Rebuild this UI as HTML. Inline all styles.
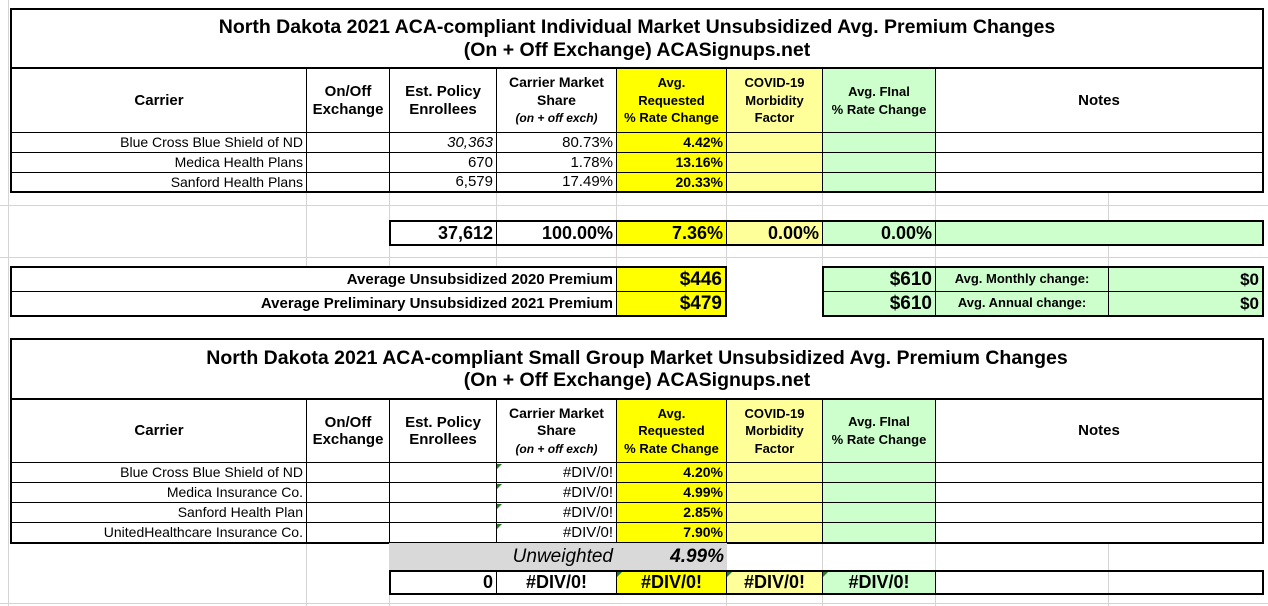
<!DOCTYPE html>
<html><head><meta charset="utf-8"><style>
body{margin:0;width:1268px;height:606px;background:#fff;position:relative;overflow:hidden;font-family:"Liberation Sans",Arial,sans-serif;color:#000}
.c{position:absolute;box-sizing:border-box;display:flex;align-items:center;border:1px solid #000;white-space:nowrap;line-height:1.15}
.ctr{justify-content:center;text-align:center}
.r{justify-content:flex-end;padding-right:3px}
.h{font-weight:bold;font-size:15px}
.d{font-size:14px}
.b{font-weight:bold}
.Y{background:#ffff00}.LY{background:#ffff99}.G{background:#ccffcc}.GR{background:#d9d9d9}
.T{border:2px solid #000}
.g{position:absolute;background:#d4d4d4}
.tri{position:absolute;width:0;height:0;border-top:5px solid #2a7a2a;border-right:5px solid transparent}
</style></head><body>
<!-- gridlines -->
<div class="g" style="left:8px;top:0;width:1px;height:606px"></div>
<div class="g" style="left:0;top:205px;width:1268px;height:1px"></div>
<div class="g" style="left:0;top:257px;width:1268px;height:1px"></div>
<div class="g" style="left:0;top:603px;width:1268px;height:1px"></div>
<div class="g" style="left:306px;top:192px;width:1px;height:76px"></div>
<div class="g" style="left:389px;top:192px;width:1px;height:76px"></div>
<div class="g" style="left:496px;top:192px;width:1px;height:76px"></div>
<div class="g" style="left:616px;top:192px;width:1px;height:76px"></div>
<div class="g" style="left:726px;top:192px;width:1px;height:76px"></div>
<div class="g" style="left:822px;top:192px;width:1px;height:76px"></div>
<div class="g" style="left:935px;top:192px;width:1px;height:76px"></div>
<div class="g" style="left:1108px;top:192px;width:1px;height:76px"></div>
<div class="g" style="left:306px;top:543px;width:1px;height:63px"></div>
<div class="g" style="left:389px;top:543px;width:1px;height:63px"></div>
<div class="g" style="left:726px;top:543px;width:1px;height:63px"></div>
<div class="g" style="left:822px;top:543px;width:1px;height:63px"></div>
<div class="g" style="left:935px;top:543px;width:1px;height:63px"></div>
<div class="g" style="left:1108px;top:543px;width:1px;height:63px"></div>

<!-- TABLE 1 -->
<div class="c ctr T b" style="left:10px;top:8px;width:1254px;height:61px;font-size:19.5px"><div>North Dakota 2021 ACA-compliant Individual Market Unsubsidized Avg. Premium Changes<br>(On + Off Exchange) ACASignups.net</div></div>
<div class="c ctr h" style="left:10px;top:68px;width:297px;height:65px;border-left-width:2px">Carrier</div>
<div class="c ctr h" style="left:306px;top:68px;width:84px;height:65px"><div>On/Off<br>Exchange</div></div>
<div class="c ctr h" style="left:389px;top:68px;width:108px;height:65px"><div>Est. Policy<br>Enrollees</div></div>
<div class="c ctr h" style="left:496px;top:68px;width:121px;height:65px;font-size:14px"><div style="line-height:1.25">Carrier Market<br>Share<br><span style="font-size:12px;font-style:italic">(on + off exch)</span></div></div>
<div class="c ctr b Y" style="left:616px;top:68px;width:111px;height:65px;font-size:13px"><div style="line-height:1.35">Avg.<br>Requested<br>% Rate Change</div></div>
<div class="c ctr b LY" style="left:726px;top:68px;width:97px;height:65px;font-size:13px"><div style="line-height:1.35">COVID-19<br>Morbidity<br>Factor</div></div>
<div class="c ctr b G" style="left:822px;top:68px;width:114px;height:65px;font-size:13px"><div style="line-height:1.35">Avg. FInal<br>% Rate Change</div></div>
<div class="c ctr h" style="left:935px;top:68px;width:329px;height:65px;border-right-width:2px">Notes</div>

<div class="c r d" style="left:10px;top:132px;width:297px;height:21px;border-left-width:2px">Blue Cross Blue Shield of ND</div>
<div class="c" style="left:306px;top:132px;width:84px;height:21px"></div>
<div class="c r d" style="left:389px;top:132px;width:108px;height:21px;font-style:italic;font-size:15px">30,363</div>
<div class="c r d" style="left:496px;top:132px;width:121px;height:21px;font-size:15px">80.73%</div>
<div class="c r b Y" style="left:616px;top:132px;width:111px;height:21px;font-size:14px">4.42%</div>
<div class="c LY" style="left:726px;top:132px;width:97px;height:21px"></div>
<div class="c G" style="left:822px;top:132px;width:114px;height:21px"></div>
<div class="c" style="left:935px;top:132px;width:329px;height:21px;border-right-width:2px"></div>

<div class="c r d" style="left:10px;top:152px;width:297px;height:21px;border-left-width:2px">Medica Health Plans</div>
<div class="c" style="left:306px;top:152px;width:84px;height:21px"></div>
<div class="c r d" style="left:389px;top:152px;width:108px;height:21px;font-size:15px">670</div>
<div class="c r d" style="left:496px;top:152px;width:121px;height:21px;font-size:15px">1.78%</div>
<div class="c r b Y" style="left:616px;top:152px;width:111px;height:21px;font-size:14px">13.16%</div>
<div class="c LY" style="left:726px;top:152px;width:97px;height:21px"></div>
<div class="c G" style="left:822px;top:152px;width:114px;height:21px"></div>
<div class="c" style="left:935px;top:152px;width:329px;height:21px;border-right-width:2px"></div>

<div class="c r d" style="left:10px;top:172px;width:297px;height:21px;border-left-width:2px;border-bottom-width:2px">Sanford Health Plans</div>
<div class="c" style="left:306px;top:172px;width:84px;height:21px;border-bottom-width:2px"></div>
<div class="c r d" style="left:389px;top:172px;width:108px;height:21px;font-size:15px;border-bottom-width:2px">6,579</div>
<div class="c r d" style="left:496px;top:172px;width:121px;height:21px;font-size:15px;border-bottom-width:2px">17.49%</div>
<div class="c r b Y" style="left:616px;top:172px;width:111px;height:21px;font-size:14px;border-bottom-width:2px">20.33%</div>
<div class="c LY" style="left:726px;top:172px;width:97px;height:21px;border-bottom-width:2px"></div>
<div class="c G" style="left:822px;top:172px;width:114px;height:21px;border-bottom-width:2px"></div>
<div class="c" style="left:935px;top:172px;width:329px;height:21px;border-right-width:2px;border-bottom-width:2px"></div>

<div class="c r b" style="left:389px;top:220px;width:108px;height:26px;font-size:18px;border-width:2px 1px 2px 2px">37,612</div>
<div class="c r b" style="left:496px;top:220px;width:121px;height:26px;font-size:18px;border-width:2px 1px">100.00%</div>
<div class="c r b Y" style="left:616px;top:220px;width:111px;height:26px;font-size:18px;border-width:2px 1px">7.36%</div>
<div class="c r b LY" style="left:726px;top:220px;width:97px;height:26px;font-size:18px;border-width:2px 1px">0.00%</div>
<div class="c r b G" style="left:822px;top:220px;width:114px;height:26px;font-size:18px;border-width:2px 1px">0.00%</div>
<div class="c G" style="left:935px;top:220px;width:329px;height:26px;border-width:2px 2px 2px 1px"></div>

<div class="c r b" style="left:10px;top:266px;width:607px;height:26px;font-size:15px;border-width:2px 1px 1px 2px">Average Unsubsidized 2020 Premium</div>
<div class="c r b Y" style="left:616px;top:266px;width:111px;height:26px;font-size:19px;border-width:2px 2px 1px 1px">$446</div>
<div class="c r b" style="left:10px;top:291px;width:607px;height:26px;font-size:15px;border-width:1px 1px 2px 2px">Average Preliminary Unsubsidized 2021 Premium</div>
<div class="c r b Y" style="left:616px;top:291px;width:111px;height:26px;font-size:19px;border-width:1px 2px 2px 1px">$479</div>
<div class="c r b G" style="left:822px;top:266px;width:114px;height:26px;font-size:19px;border-width:2px 1px 1px 2px">$610</div>
<div class="c ctr b G" style="left:935px;top:266px;width:174px;height:26px;font-size:13px;border-width:2px 1px 1px 1px">Avg. Monthly change:</div>
<div class="c r b G" style="left:1108px;top:266px;width:156px;height:26px;font-size:17px;border-width:2px 2px 1px 1px">$0</div>
<div class="c r b G" style="left:822px;top:291px;width:114px;height:26px;font-size:19px;border-width:1px 1px 2px 2px">$610</div>
<div class="c ctr b G" style="left:935px;top:291px;width:174px;height:26px;font-size:13px;border-width:1px 1px 2px 1px">Avg. Annual change:</div>
<div class="c r b G" style="left:1108px;top:291px;width:156px;height:26px;font-size:17px;border-width:1px 2px 2px 1px">$0</div>

<!-- TABLE 2 -->
<div class="c ctr T b" style="left:10px;top:338px;width:1254px;height:62px;font-size:19.5px"><div>North Dakota 2021 ACA-compliant Small Group Market Unsubsidized Avg. Premium Changes<br>(On + Off Exchange) ACASignups.net</div></div>
<div class="c ctr h" style="left:10px;top:399px;width:297px;height:64px;border-left-width:2px">Carrier</div>
<div class="c ctr h" style="left:306px;top:399px;width:84px;height:64px"><div>On/Off<br>Exchange</div></div>
<div class="c ctr h" style="left:389px;top:399px;width:108px;height:64px"><div>Est. Policy<br>Enrollees</div></div>
<div class="c ctr h" style="left:496px;top:399px;width:121px;height:64px;font-size:14px"><div style="line-height:1.25">Carrier Market<br>Share<br><span style="font-size:12px;font-style:italic">(on + off exch)</span></div></div>
<div class="c ctr b Y" style="left:616px;top:399px;width:111px;height:64px;font-size:13px"><div style="line-height:1.35">Avg.<br>Requested<br>% Rate Change</div></div>
<div class="c ctr b LY" style="left:726px;top:399px;width:97px;height:64px;font-size:13px"><div style="line-height:1.35">COVID-19<br>Morbidity<br>Factor</div></div>
<div class="c ctr b G" style="left:822px;top:399px;width:114px;height:64px;font-size:13px"><div style="line-height:1.35">Avg. FInal<br>% Rate Change</div></div>
<div class="c ctr h" style="left:935px;top:399px;width:329px;height:64px;border-right-width:2px">Notes</div>

<div class="c r d" style="left:10px;top:462px;width:297px;height:21px;border-left-width:2px">Blue Cross Blue Shield of ND</div>
<div class="c" style="left:306px;top:462px;width:84px;height:21px"></div>
<div class="c" style="left:389px;top:462px;width:108px;height:21px"></div>
<div class="c r d" style="left:496px;top:462px;width:121px;height:21px;font-size:15px">#DIV/0!</div>
<div class="c r b Y" style="left:616px;top:462px;width:111px;height:21px;font-size:14px">4.20%</div>
<div class="c LY" style="left:726px;top:462px;width:97px;height:21px"></div>
<div class="c G" style="left:822px;top:462px;width:114px;height:21px"></div>
<div class="c" style="left:935px;top:462px;width:329px;height:21px;border-right-width:2px"></div>

<div class="c r d" style="left:10px;top:482px;width:297px;height:21px;border-left-width:2px">Medica Insurance Co.</div>
<div class="c" style="left:306px;top:482px;width:84px;height:21px"></div>
<div class="c" style="left:389px;top:482px;width:108px;height:21px"></div>
<div class="c r d" style="left:496px;top:482px;width:121px;height:21px;font-size:15px">#DIV/0!</div>
<div class="c r b Y" style="left:616px;top:482px;width:111px;height:21px;font-size:14px">4.99%</div>
<div class="c LY" style="left:726px;top:482px;width:97px;height:21px"></div>
<div class="c G" style="left:822px;top:482px;width:114px;height:21px"></div>
<div class="c" style="left:935px;top:482px;width:329px;height:21px;border-right-width:2px"></div>

<div class="c r d" style="left:10px;top:502px;width:297px;height:21px;border-left-width:2px">Sanford Health Plan</div>
<div class="c" style="left:306px;top:502px;width:84px;height:21px"></div>
<div class="c" style="left:389px;top:502px;width:108px;height:21px"></div>
<div class="c r d" style="left:496px;top:502px;width:121px;height:21px;font-size:15px">#DIV/0!</div>
<div class="c r b Y" style="left:616px;top:502px;width:111px;height:21px;font-size:14px">2.85%</div>
<div class="c LY" style="left:726px;top:502px;width:97px;height:21px"></div>
<div class="c G" style="left:822px;top:502px;width:114px;height:21px"></div>
<div class="c" style="left:935px;top:502px;width:329px;height:21px;border-right-width:2px"></div>

<div class="c r d" style="left:10px;top:522px;width:297px;height:22px;border-left-width:2px;border-bottom-width:2px">UnitedHealthcare Insurance Co.</div>
<div class="c" style="left:306px;top:522px;width:84px;height:22px;border-bottom-width:2px"></div>
<div class="c" style="left:389px;top:522px;width:108px;height:22px;border-bottom-width:2px"></div>
<div class="c r d" style="left:496px;top:522px;width:121px;height:22px;font-size:15px;border-bottom-width:2px">#DIV/0!</div>
<div class="c r b Y" style="left:616px;top:522px;width:111px;height:22px;font-size:14px;border-bottom-width:2px">7.90%</div>
<div class="c LY" style="left:726px;top:522px;width:97px;height:22px;border-bottom-width:2px"></div>
<div class="c G" style="left:822px;top:522px;width:114px;height:22px;border-bottom-width:2px"></div>
<div class="c" style="left:935px;top:522px;width:329px;height:22px;border-right-width:2px;border-bottom-width:2px"></div>
<div class="tri" style="left:497px;top:464px"></div>
<div class="tri" style="left:497px;top:484px"></div>
<div class="tri" style="left:497px;top:504px"></div>
<div class="tri" style="left:497px;top:524px"></div>

<div class="c r GR" style="left:389px;top:543px;width:228px;height:28px;font-size:19px;font-style:italic;border-top:0;border-bottom:0;border-left:0">Unweighted</div>
<div class="c r b GR" style="left:616px;top:543px;width:111px;height:28px;font-size:19px;font-style:italic;border:0">4.99%</div>

<div class="c r b" style="left:389px;top:570px;width:108px;height:25px;font-size:18px;border-width:2px 1px 2px 2px">0</div>
<div class="c ctr b" style="left:496px;top:570px;width:121px;height:25px;font-size:18px;border-width:2px 1px">#DIV/0!</div>
<div class="c ctr b Y" style="left:616px;top:570px;width:111px;height:25px;font-size:18px;border-width:2px 1px">#DIV/0!</div>
<div class="c ctr b LY" style="left:726px;top:570px;width:97px;height:25px;font-size:18px;border-width:2px 1px">#DIV/0!</div>
<div class="c ctr b G" style="left:822px;top:570px;width:114px;height:25px;font-size:18px;border-width:2px 1px">#DIV/0!</div>
<div class="c" style="left:935px;top:570px;width:329px;height:25px;border-width:2px 2px 2px 1px"></div>
<div class="tri" style="left:617px;top:572px"></div>
<div class="tri" style="left:727px;top:572px"></div>
<div class="tri" style="left:823px;top:572px"></div>
</body></html>
